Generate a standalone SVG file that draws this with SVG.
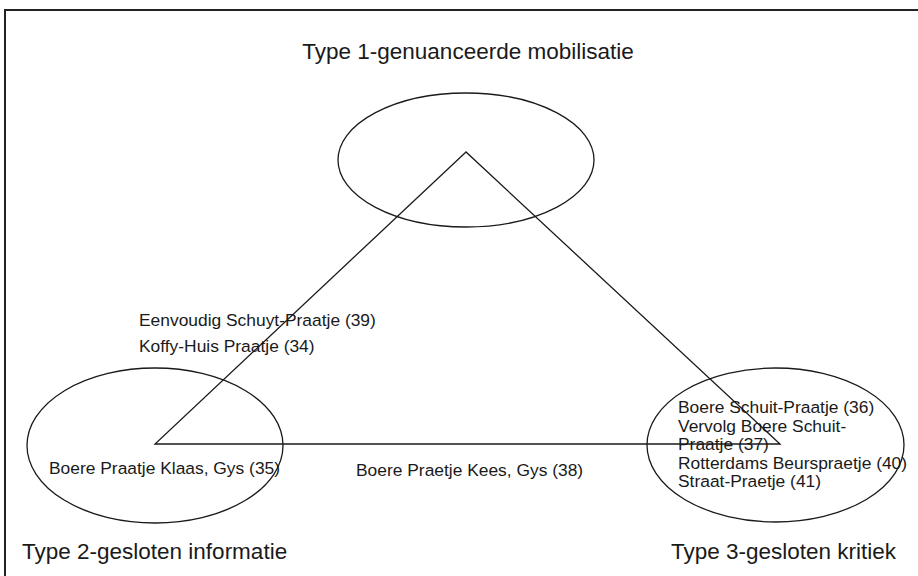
<svg xmlns="http://www.w3.org/2000/svg" width="918" height="576" viewBox="0 0 918 576">
<style>
.shape{fill:none;stroke:#1a1a1a;stroke-width:1.3}
.big{font-family:"Liberation Sans",Arial,sans-serif;font-size:22.5px;fill:#1a1a1a}
.lbl{font-family:"Liberation Sans",Arial,sans-serif;font-size:17.4px;fill:#1a1a1a}
</style>
<rect width="918" height="576" fill="#ffffff"/>
<rect x="5" y="10" width="930" height="600" fill="none" stroke="#222" stroke-width="2"/>
<g id="connectors">
<polygon class="shape" points="466,152 155,444 780,444"/>
</g>
<g id="type1">
<ellipse class="shape" cx="466" cy="160" rx="128" ry="67"/>
<text class="big" x="468" y="59" text-anchor="middle">Type 1-genuanceerde mobilisatie</text>
</g>
<g id="type2">
<ellipse class="shape" cx="155" cy="445.5" rx="128" ry="77.5"/>
<text class="big" x="22" y="559">Type 2-gesloten informatie</text>
<text class="lbl" x="49" y="474">Boere Praatje Klaas, Gys (35)</text>
</g>
<g id="type3">
<ellipse class="shape" cx="775.5" cy="445" rx="128.5" ry="77"/>
<text class="big" x="671" y="559">Type 3-gesloten kritiek</text>
<text class="lbl" x="678"><tspan x="678" y="413">Boere Schuit-Praatje (36)</tspan><tspan x="678" y="431.5">Vervolg Boere Schuit-</tspan><tspan x="678" y="450">Praatje (37)</tspan><tspan x="678" y="468.5">Rotterdams Beurspraetje (40)</tspan><tspan x="678" y="487">Straat-Praetje (41)</tspan></text>
</g>
<g id="edge-labels">
<text class="lbl" x="139" y="326">Eenvoudig Schuyt-Praatje (39)</text>
<text class="lbl" x="139" y="352">Koffy-Huis Praatje (34)</text>
<text class="lbl" x="356" y="476">Boere Praetje Kees, Gys (38)</text>
</g>
</svg>
